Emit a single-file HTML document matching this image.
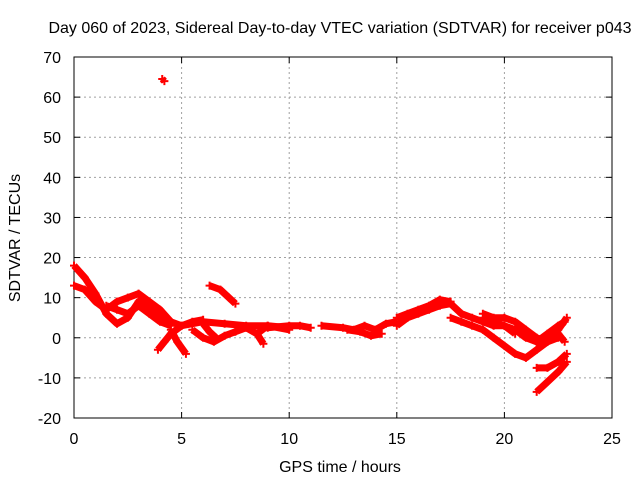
<!DOCTYPE html>
<html><head><meta charset="utf-8"><style>
body{margin:0;background:#fff}
svg{font-family:"Liberation Sans",sans-serif;font-size:16px}
</style></head><body>
<svg id="chart" width="640" height="480">
<text x="340" y="33" text-anchor="middle">Day 060 of 2023, Sidereal Day-to-day VTEC variation (SDTVAR) for receiver p043</text>
<g id="grid"></g><g id="axes"></g><g id="marks"></g>
<text x="340" y="472" text-anchor="middle">GPS time / hours</text>
<text transform="translate(20,238) rotate(-90)" text-anchor="middle">SDTVAR / TECUs</text>
</svg>
<script>
const xTicks=[0,5,10,15,20,25];
const yTicks=[-20,-10,0,10,20,30,40,50,60,70];
const trackA=[[0,18],[0.5,15],[1,11],[1.5,6],[2,3.5],[2.5,5],[3,9],[3.5,8],[4,6],[4.5,4],[5,3],[6,4],[7,3.5],[8,3],[9,3],[10,2.5]];
const trackB=[[0,13],[0.5,12],[1,9],[1.5,7],[2,9],[2.5,10],[3,11],[3.5,9],[4,7],[4.5,4]];
const trackC=[[1.5,8],[2,7],[2.5,6],[3,8],[3.5,6],[4,4],[4.5,3]];
const trackD=[[3.9,-3],[4.2,-1],[4.5,1],[5,3],[5.5,4],[6,4.5]];
const trackE=[[4.5,2],[4.8,-1],[5.2,-4]];
const trackF=[[6.3,13],[6.8,12],[7.2,10],[7.5,8.5]];
const trackG=[[5.5,2],[6,0],[6.5,-1],[7,0.5],[7.5,1.5],[8,2.5],[8.5,1],[9,3],[10,2]];
const trackH=[[6,3.5],[6.3,1.5],[6.6,0]];
const trackI=[[8.5,1],[8.8,-1.5]];
const trackT=[[9,2.5],[10,3],[10.5,3],[11,2.5]];
const trackJ=[[11.5,3],[12.5,2.5],[13,2],[13.5,3],[14,2],[14.5,3.5],[15,4]];
const trackK=[[12.7,2],[13.3,1.5],[13.8,0.5],[14.3,1]];
const trackL=[[15,3],[15.5,5],[16,6],[16.5,7],[17,8],[17.5,8.5],[18,6],[18.5,5],[19,4],[19.5,3],[20,3],[20.5,1]];
const trackM=[[15,5],[15.5,6],[16,7],[16.5,8],[17,9.5],[17.5,9]];
const trackN=[[17.5,5],[18,4],[18.5,3],[19,2],[19.5,0],[20,-2],[20.5,-4],[21,-5],[21.5,-3],[22,-1],[22.5,2],[22.9,5]];
const trackO=[[19,5],[19.5,4],[20,3],[20.5,2],[21,0],[21.5,-1],[22,1],[22.5,3],[22.8,4]];
const trackP=[[19,6],[19.5,5],[20,5],[20.5,4],[21,2],[21.5,0],[22,-1],[22.5,0]];
const trackQ=[[21.5,-7.5],[22,-7.5],[22.5,-6],[22.9,-4]];
const trackR=[[21.5,-13.5],[22,-11],[22.5,-8.5],[22.9,-6]];
const trackS=[[22.5,1],[22.8,-1]];
const outlier=[[4.1,64.5],[4.2,64]];
const tracks=[trackA,trackB,trackC,trackD,trackE,trackF,trackG,trackH,trackI,trackT,trackJ,trackK,trackL,trackM,trackN,trackO,trackP,trackQ,trackR,trackS,outlier];
const NS="http://www.w3.org/2000/svg";
const X=v=>74+(v/25)*538, Y=v=>418-(v+20)/90*361;
function mk(t,a,p){const e=document.createElementNS(NS,t);for(const k in a)e.setAttribute(k,a[k]);p.appendChild(e);return e;}
const grid=document.getElementById('grid'),axes=document.getElementById('axes'),marks=document.getElementById('marks');
xTicks.forEach(t=>{
 if(t>0&&t<25){const l=mk('line',{x1:X(t),x2:X(t),y1:57,y2:418,stroke:'#a0a0a0','stroke-dasharray':'2,3'},grid);
 
 }
 const tx=mk('text',{x:X(t),y:444,'text-anchor':'middle'},axes);tx.textContent=t;
 
 
 mk('line',{x1:X(t),x2:X(t),y1:418,y2:412,stroke:'#000'},axes);
 mk('line',{x1:X(t),x2:X(t),y1:57,y2:63,stroke:'#000'},axes);
});
yTicks.forEach(t=>{
 if(t>-20&&t<70){const l=mk('line',{x1:74,x2:612,y1:Y(t),y2:Y(t),stroke:'#a0a0a0','stroke-dasharray':'2,3'},grid);
 
 }
 const tx=mk('text',{x:61,y:Y(t)+6,'text-anchor':'end'},axes);tx.textContent=t;
 
 
 mk('line',{x1:74,x2:80,y1:Y(t),y2:Y(t),stroke:'#000'},axes);
 mk('line',{x1:612,x2:606,y1:Y(t),y2:Y(t),stroke:'#000'},axes);
});
const fr=mk('rect',{x:74,y:57,width:538,height:361,fill:'none',stroke:'#000'},axes);


tracks.forEach(tr=>{
 const pl=mk('polyline',{points:tr.map(p=>X(p[0])+','+Y(p[1])).join(' '),fill:'none',stroke:'#f00','stroke-width':7,'stroke-linejoin':'round'},marks);
 
 
 tr.forEach(p=>{
  const g=mk('path',{d:`M${X(p[0])-4},${Y(p[1])}h8M${X(p[0])},${Y(p[1])-4}v8`,stroke:'#f00','stroke-width':2},marks);
  
  
 });
});
</script>
</body></html>
